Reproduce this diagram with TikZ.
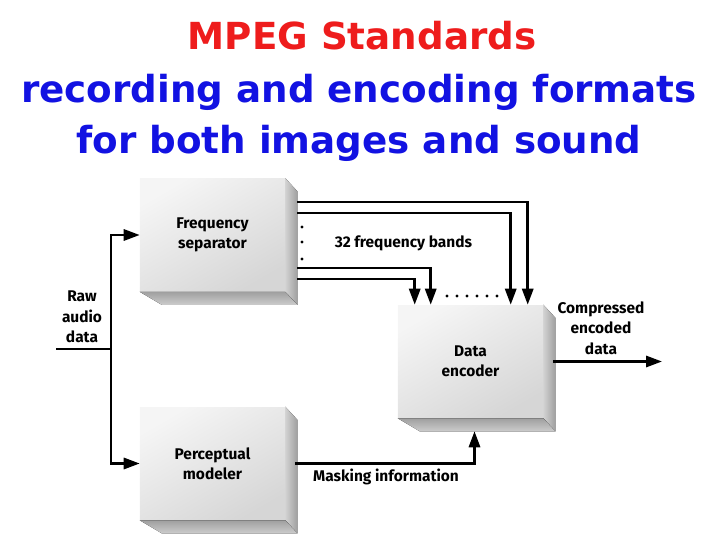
\documentclass[tikz,border=0pt]{standalone}
\usepackage{fontspec}
\newfontfamily\titlefont{DejaVu Sans}
\newfontfamily\labelfont{Fira Sans}
\usetikzlibrary{arrows.meta, calc, positioning}
\definecolor{titlered}{HTML}{EE1C1C}
\definecolor{titleblue}{HTML}{1212E2}
\tikzset{
	blocknode/.style={
			shape=rectangle,
			minimum width=36.25mm,
			minimum height=28.25mm,
			inner sep=0pt,
			top color=gray!8,
			bottom color=gray!32,
			shading angle=30,
			font=\labelfont\bfseries\fontsize{11}{14.5}\selectfont,
			align=center
		},
	sideface/.style={
			left color=gray!35,
			right color=gray!75
		},
	bottomface/.style={
			top color=gray!75,
			bottom color=gray!40
		}
}
\tikzset{
	flowline/.style={line width=1.8pt, -{Triangle[length=4mm,width=2.8mm]}},
	plainline/.style={line width=1.8pt},
	lbltext/.style={font=\labelfont\bfseries\fontsize{11}{14.5}\selectfont, align=center, inner sep=0pt},
	titletext/.style={font=\titlefont\bfseries\fontsize{26.5}{30}\selectfont, inner sep=0pt}
}
\begin{document}
\begin{tikzpicture}[x=0.25mm, y=-0.25mm]
	\useasboundingbox (0,0) rectangle (720,540);

	\node[titletext, text=titlered]  (t1) at (362,36)  {MPEG Standards};
	\node[titletext, text=titleblue] (t2) at (359,92)  {recording and encoding formats};
	\node[titletext, text=titleblue] (t3) at (359,143) {for both images and sound};

	\node[blocknode] (fs) at (212.5,235)   {Frequency\\separator};
	\node[blocknode] (pm) at (212.5,463.5) {Perceptual\\modeler};
	\node[blocknode] (de) at (470.5,361.5) {Data\\encoder};

	\foreach \b in {fs,pm,de} {
		\fill[sideface] (\b.north east) -- ++(12,13) -- ($(\b.south east)+(12,13)$) -- (\b.south east) -- cycle;
		\fill[bottomface] (\b.south west) -- (\b.south east) -- ++(12,13) -- ($(\b.south west)+(22,13)$) -- cycle;
	}

	\node[lbltext] (raw) at (82,317) {Raw\\audio\\data};
	\node[lbltext] (cmp) at (601,328) {Compressed\\encoded\\data};
	\node[lbltext] (mask) at (386,477) {Masking information};
	\node[lbltext] (bands) at (403.5,243) {32 frequency bands};

	\coordinate (rawin) at (56,349);
	\coordinate (split) at (111,349);
	\coordinate (cmpout) at (662,361.5);

	\draw[plainline] (rawin) -- (split);
	\draw[flowline] (split) |- (fs.west);
	\draw[flowline] (split) |- (pm.west);

	\draw[flowline] ($(fs.north east)+(12,24)$)  -| ($(de.north west)+(130,0)$);
	\draw[flowline] ($(fs.north east)+(12,35)$)  -| ($(de.north west)+(113,0)$);
	\draw[flowline] ($(fs.north east)+(12,90)$)  -| ($(de.north west)+(33,0)$);
	\draw[flowline] ($(fs.north east)+(12,101)$) -| ($(de.north west)+(17,0)$);

	\draw[flowline] ($(de.east)+(10,0)$) -- (cmpout);
	\draw[flowline] ($(pm.east)+(10,0)$) -| ($(de.south)+(4,13)$);

	\foreach \y in {227,242,259}
		\fill (302,\y) circle (0.4mm);
	\foreach \x in {447,457,...,497}
		\fill (\x,296) circle (0.4mm);

\end{tikzpicture}
\end{document}
